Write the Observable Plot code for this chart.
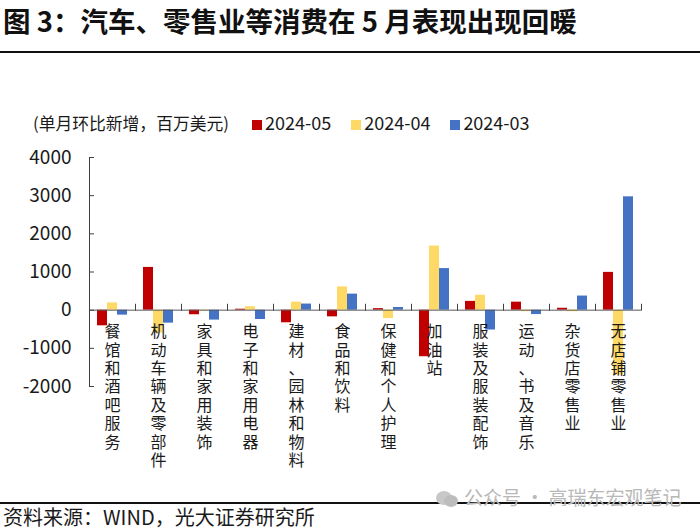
<!DOCTYPE html>
<html>
<head>
<meta charset="utf-8">
<script src="https://cdn.jsdelivr.net/npm/d3@7"></script>
<script src="https://cdn.jsdelivr.net/npm/@observablehq/plot@0.6"></script>
<style>
  body { margin: 0; width: 700px; height: 532px; position: relative; background: #fff; overflow: hidden;
         font-family: "Noto Sans CJK SC", sans-serif; color: #1a1a1a; }
  .abs { position: absolute; white-space: nowrap; }
</style>
</head>
<body>
<div class="abs" id="title" style="left:3px;top:0.5px;width:690px;font-size:27.5px;line-height:1.45;font-weight:bold;color:#111;"></div>
<div class="abs" style="left:0;top:51px;width:700px;height:2px;background:#111;"></div>
<div class="abs" id="chart" style="left:0;top:60px;"></div>
<div class="abs" id="ylabel" style="left:33px;top:115px;font-size:16.8px;line-height:16.8px;"></div>
<div class="abs" id="legend" style="left:252px;top:113px;font-size:18px;line-height:18px;"></div>
<div class="abs" style="left:0;top:502px;width:700px;height:1.5px;background:#111;"></div>
<div class="abs" id="source" style="left:3px;top:507px;font-size:20px;line-height:20px;"></div>
<div class="abs" id="wm" style="left:436px;top:487px;font-size:19px;line-height:19px;color:#b8b8b8;">
  <svg width="22" height="18" style="vertical-align:-3px;margin-right:6px"><ellipse cx="8" cy="8" rx="8" ry="7" fill="#c8c8c8"/><ellipse cx="15" cy="11" rx="7" ry="6" fill="#bdbdbd"/></svg><span id="wmtext"></span>
</div>
<script>
const titleText = "图 3：汽车、零售业等消费在 5 月表现出现回暖";
const yLabelText = "(单月环比新增，百万美元)";
const sourceText = "资料来源：WIND，光大证券研究所";
const watermarkText = "公众号 · 高瑞东宏观笔记";

const categories = ["餐馆和酒吧服务","机动车辆及零部件","家具和家用装饰","电子和家用电器","建材、园林和物料","食品和饮料","保健和个人护理","加油站","服装及服装配饰","运动、书及音乐","杂货店零售业","无店铺零售业"];
const series = ["2024-05","2024-04","2024-03"];
const colors = ["#C00000","#FFD966","#4472C4"];
const may = [-410, 1120, -120, 25, -330, -175, 40, -1220, 230, 210, 50, 990];
const apr = [190, -600, -20, 90, 210, 610, -220, 1680, 390, -40, -40, -1700];
const mar = [-130, -340, -260, -245, 160, 420, 70, 1090, -520, -115, 370, 2970];
const yTicks = [-2000, -1000, 0, 1000, 2000, 3000, 4000];

document.getElementById("title").textContent = titleText;
document.getElementById("ylabel").textContent = yLabelText;
document.getElementById("source").textContent = sourceText;
document.getElementById("wmtext").textContent = watermarkText;

const legend = document.getElementById("legend");
series.forEach((s, i) => {
  const item = document.createElement("span");
  item.style.cssText = "display:inline-block;margin-right:20px;";
  item.innerHTML = `<span style="display:inline-block;width:10px;height:10px;background:${colors[i]};margin-right:3px;vertical-align:0px"></span>${s}`;
  legend.appendChild(item);
});

const valuesBySeries = [may, apr, mar];
const data = [];
categories.forEach((c, i) => {
  series.forEach((s, j) => data.push({cat: c, s, v: valuesBySeries[j][i]}));
});

const tickUp = {draw(ctx, l) { ctx.moveTo(0, 0); ctx.lineTo(0, -l); }};

const chart = Plot.plot({
  width: 700,
  height: 440,
  marginTop: 97,
  marginBottom: 114,
  marginLeft: 86,
  marginRight: 57,
  style: {fontFamily: "'Noto Sans CJK SC', sans-serif", fontSize: "19px", color: "#1a1a1a", background: "transparent", overflow: "visible"},
  fx: {domain: categories, padding: 0, axis: null},
  x: {domain: series, paddingInner: 0, paddingOuter: 0.75, axis: null},
  y: {domain: [-2000, 4000], axis: null},
  color: {domain: series, range: colors},
  marks: [
    Plot.barY(data, {fx: "cat", x: "s", y: "v", fill: "s"}),
    Plot.ruleY([0], {stroke: "#595959", strokeWidth: 1}),
    Plot.vector([0], {y: d => d, frameAnchor: "right", length: 6, anchor: "start", shape: tickUp, stroke: "#404040", strokeWidth: 1}),
    Plot.frame({anchor: "left", facetAnchor: "left", stroke: "#404040"}),
    Plot.axisY({ticks: yTicks, tickSize: 0, tickPadding: 18, tickFormat: d => String(d), label: null, fontSize: 19}),
    Plot.axisY({ticks: yTicks, tickSize: -5, tickFormat: () => "", stroke: "#404040", label: null}),
    Plot.text(categories, {fx: d => d, y: 0, text: d => Array.from(d).join("\n"), lineAnchor: "top", dy: 14, lineHeight: 1.15, fontSize: 16, fill: "#1a1a1a"})
  ]
});
document.getElementById("chart").appendChild(chart);
</script>
</body>
</html>
